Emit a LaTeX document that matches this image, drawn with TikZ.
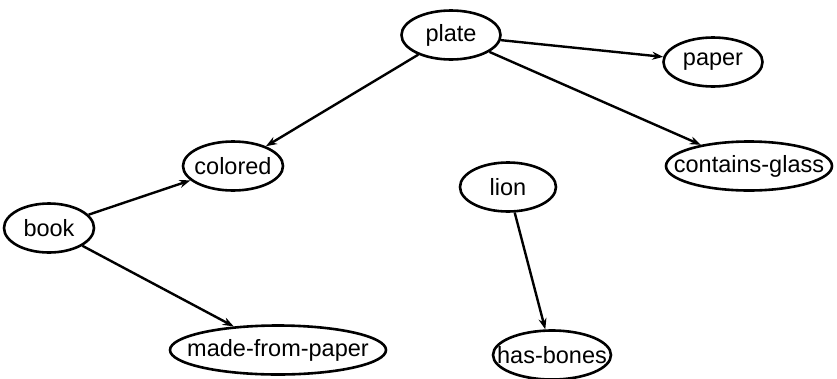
\documentclass[tikz,border=0pt]{standalone}
\usepackage{fontspec}
\setmainfont{Liberation Sans}
\usetikzlibrary{shapes.geometric,arrows.meta}
\begin{document}
\begin{tikzpicture}[x=1pt,y=-1pt,
  nd/.style={draw,ellipse,line width=2.6pt,inner sep=0pt,minimum height=49pt},
  lbl/.style={inner sep=0pt,font=\fontsize{23.5}{28}\selectfont},
  edge/.style={line width=2.4pt,-{Stealth[length=11pt,width=8pt]}}]
\useasboundingbox (0,0) rectangle (837,378);
\node[nd,minimum width=99pt] (plate) at (451,35) {};
\node[nd,minimum width=99pt] (paper) at (713,62) {};
\node[nd,minimum width=100pt] (colored) at (233,166) {};
\node[nd,minimum width=166pt] (cg) at (749,166) {};
\node[nd,minimum width=96pt] (lion) at (508,187) {};
\node[nd,minimum width=90pt] (book) at (49,228) {};
\node[nd,minimum width=216pt] (mfp) at (278,350) {};
\node[nd,minimum width=118pt] (hb) at (552,355) {};
\node[lbl] (tplate) at (plate) {plate};
\node[lbl] (tpaper) at (paper) {paper};
\node[lbl] (tcolored) at (colored) {colored};
\node[lbl] (tcg) at (cg) {contains-glass};
\node[lbl] (tlion) at (lion) {lion};
\node[lbl] (tbook) at (book) {book};
\node[lbl] (tmfp) at (mfp) {made-from-paper};
\node[lbl] (thb) at (hb) {has-bones};
\draw[edge] (plate) -- (colored);
\draw[edge] (plate) -- (paper);
\draw[edge] (plate) -- (cg);
\draw[edge] (book) -- (colored);
\draw[edge] (book) -- (mfp);
\draw[edge] (lion) -- (hb);
\end{tikzpicture}
\end{document}
